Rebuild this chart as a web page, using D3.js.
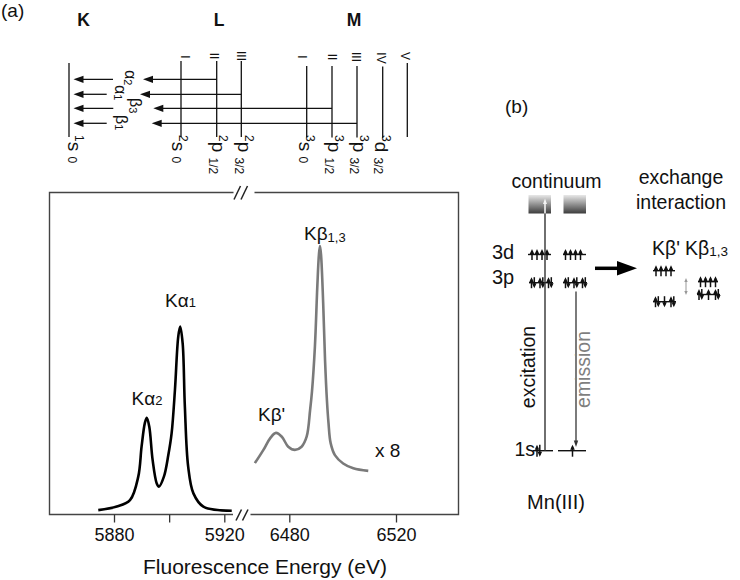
<!DOCTYPE html>
<html><head><meta charset="utf-8">
<script src="https://cdn.jsdelivr.net/npm/d3@7"></script>
<style>body{margin:0;background:#fff} svg{display:block} text{font-family:"Liberation Sans",Arial,Helvetica,sans-serif}</style>
</head><body><svg id="c" width="740" height="580"></svg>
<script>
// ---------- DATA ----------
// K-alpha emission (black), energy in eV, intensity in arbitrary units
const kaEnergy = [5874.3, 5881.0, 5885.8, 5888.8, 5890.0, 5891.2, 5891.9, 5892.8, 5894.0, 5895.5, 5896.3, 5898.1, 5899.7, 5900.9, 5902.1, 5903.3, 5904.0, 5904.9, 5905.7, 5906.9, 5908.8, 5912.4, 5922.7];
const kaIntensity = [1.2, 2.3, 4.3, 11.6, 20.9, 28.3, 29.9, 27.1, 16.8, 9.5, 8.5, 11.6, 18.3, 25.1, 38.5, 55.1, 58.2, 53.0, 33.3, 14.7, 6.4, 2.3, 1.0];
// K-beta emission (grey, x 8)
const kbEnergy = [6467.1, 6470.3, 6472.8, 6475.0, 6477.2, 6479.6, 6482.1, 6484.6, 6486.5, 6487.8, 6488.5, 6489.6, 6490.5, 6491.1, 6491.5, 6491.9, 6492.7, 6493.4, 6494.1, 6494.7, 6495.5, 6497.1, 6500.2, 6504.0, 6509.6];
const kbIntensity = [15.8, 19.9, 23.5, 25.2, 24.0, 20.9, 19.9, 20.9, 24.0, 32.3, 38.0, 52.0, 70.6, 80.5, 83.2, 80.5, 65.5, 47.8, 35.4, 28.2, 22.0, 18.3, 15.7, 14.2, 13.4];
// axis ticks
const leftTicks = [5880, 5900, 5920];
const leftTickLabels = ["5880", "", "5920"];
const rightTicks = [6480, 6520];
const rightTickLabels = ["6480", "6520"];
const axisTitle = "Fluorescence Energy (eV)";
// level diagram
const shellNames = ["K", "L", "M"];
const levelNumerals = ["", "I", "II", "III", "I", "II", "III", "IV", "V"];
const levelSup = ["1", "2", "2", "2", "3", "3", "3", "3", ""];
const levelOrb = ["s", "s", "p", "p", "s", "p", "p", "d", ""];
const levelSub = ["0", "0", "1/2", "3/2", "0", "1/2", "3/2", "3/2", ""];
const transGreek = ["α", "α", "β", "β"];
const transSub = ["2", "1", "3", "1"];
const transFrom = [2, 3, 5, 6];

// ---------- LAYOUT ----------
const svg = d3.select("#c");
const plot = {left: 49.5, right: 458.5, top: 192.5, bottom: 514.5};
const xLeft = d3.scaleLinear().domain([5880, 5920]).range([114, 224.3]);
const xRight = d3.scaleLinear().domain([6480, 6520]).range([289.3, 396]);
const y = d3.scaleLinear().domain([0, 100]).range([514, 192]);

// frame with breaks
svg.append("path")
  .attr("d", `M233,${plot.bottom} H${plot.left} V${plot.top} H233.5 M254.5,${plot.top} H${plot.right} V${plot.bottom} H250.5`)
  .attr("fill", "none").attr("stroke", "#444").attr("stroke-width", 1.4);
const breaks = [[234, 199.5, 240.5, 186], [241, 199.5, 247.5, 186], [236, 520.5, 241.5, 509.5], [242.5, 520.5, 248, 509.5]];
svg.selectAll("line.brk").data(breaks).join("line").attr("class", "brk")
  .attr("x1", d => d[0]).attr("y1", d => d[1]).attr("x2", d => d[2]).attr("y2", d => d[3])
  .attr("stroke", "#222").attr("stroke-width", 1.5);

function styleAxis(g) {
  g.select(".domain").remove();
  g.selectAll(".tick line").attr("stroke", "#333").attr("stroke-width", 1.3);
  g.selectAll(".tick text").attr("font-size", 18).attr("fill", "#111")
    .attr("font-family", '"Liberation Sans", Arial, sans-serif');
}
svg.append("g").attr("transform", `translate(0,${plot.bottom})`)
  .call(d3.axisBottom(xLeft).tickValues(leftTicks).tickFormat((d, i) => leftTickLabels[i]).tickSize(8).tickPadding(6))
  .call(styleAxis);
svg.append("g").attr("transform", `translate(0,${plot.bottom})`)
  .call(d3.axisBottom(xRight).tickValues(rightTicks).tickFormat((d, i) => rightTickLabels[i]).tickSize(8).tickPadding(6))
  .call(styleAxis);
svg.append("text").attr("x", 265).attr("y", 574).attr("text-anchor", "middle")
  .attr("font-size", 21).attr("fill", "#111").text(axisTitle);

// spectra
const lineKa = d3.line().x((d, i) => xLeft(kaEnergy[i])).y(d => y(d)).curve(d3.curveCatmullRom.alpha(0.5));
const lineKb = d3.line().x((d, i) => xRight(kbEnergy[i])).y(d => y(d)).curve(d3.curveCatmullRom.alpha(0.5));
svg.append("path").datum(kaIntensity).attr("d", lineKa).attr("fill", "none")
  .attr("stroke", "#000").attr("stroke-width", 2.6).attr("stroke-linejoin", "round");
svg.append("path").datum(kbIntensity).attr("d", lineKb).attr("fill", "none")
  .attr("stroke", "#7a7a7a").attr("stroke-width", 2.6).attr("stroke-linejoin", "round");

function label(x, yy, main, greek, sub, opts = {}) {
  const t = svg.append("text").attr("x", x).attr("y", yy).attr("font-size", opts.size || 19)
    .attr("fill", opts.fill || "#111").attr("text-anchor", opts.anchor || "start");
  t.append("tspan").text(main + greek);
  if (sub) t.append("tspan").attr("font-size", opts.subSize || 13).attr("dy", opts.subDy || 0).text(sub);
  return t;
}
label(165, 306.5, "K", "α", "1");
label(131.5, 405, "K", "α", "2");
label(304, 240, "K", "β", "1,3", {subDy: 2});
label(258, 420.5, "K", "β'", "");
svg.append("text").attr("x", 375).attr("y", 456.5).attr("font-size", 19).attr("fill", "#111").text("x 8");

// ---------- (a) level diagram ----------
svg.append("text").attr("x", 1).attr("y", 17).attr("font-size", 19).attr("fill", "#111").text("(a)");
const shellX = [83.5, 219, 354];
svg.selectAll("text.shell").data(shellNames).join("text").attr("class", "shell")
  .attr("x", (d, i) => shellX[i]).attr("y", 26).attr("text-anchor", "middle")
  .attr("font-size", 17.5).attr("font-weight", "bold").attr("fill", "#111").text(d => d);

const levelX = [69, 181, 216.7, 241.3, 306.7, 332, 357, 382.7, 407.3];
const levelTop = [63, 61, 61, 61, 66, 66, 66, 66.5, 63];
const levelBot = [137, 137, 137, 137, 137.5, 137.5, 137.5, 138, 137];
const labelBx = [68, 172, 212, 237.5, 298.5, 328, 353, 374.5, 0];
const numCx = [0, 185, 214, 241, 302, 332.5, 356, 381, 405];
const numCy = [0, 57, 56, 56, 57, 57, 57, 58, 56];
const subDy = [0, 0, 3, 3, 0, 3, 3, 1, 0];
const g = svg.append("g").attr("stroke", "#111").attr("stroke-width", 1.3);
levelX.forEach((lx, i) => {
  g.append("line").attr("x1", lx).attr("x2", lx).attr("y1", levelTop[i]).attr("y2", levelBot[i]);
  if (levelNumerals[i]) {
    svg.append("text").attr("transform", `translate(${numCx[i] - 4.3},${numCy[i]}) rotate(90)`)
      .attr("text-anchor", "middle").attr("font-size", 12).attr("fill", "#111").text(levelNumerals[i]);
  }
  if (levelOrb[i]) {
    const t = svg.append("text").attr("transform", `translate(${labelBx[i]},135) rotate(90)`)
      .attr("fill", "#111").attr("font-size", 19);
    t.append("tspan").attr("font-size", 12).attr("dy", -7).text(levelSup[i]);
    t.append("tspan").attr("dy", 7).text(levelOrb[i] + " ");
    t.append("tspan").attr("font-size", 12).attr("dy", subDy[i]).text(levelSub[i]);
  }
});
// transitions
const transY = [79.3, 94.3, 108.3, 123.3];
const transTipR = [143, 140, 153.3, 151.7];
const transStartL = [113, 106.7, 113.3, 106.7];
const transLblX = [125, 115, 130, 115.5];
const transLblY = [70, 85, 98, 115];
function hArrow(x1, x2, yy) { // from x1 to tip at x2 (x2 < x1)
  svg.append("line").attr("x1", x1).attr("x2", x2 + 7).attr("y1", yy).attr("y2", yy)
    .attr("stroke", "#111").attr("stroke-width", 1.3);
  svg.append("path").attr("d", `M${x2},${yy} L${x2 + 10},${yy - 3.6} L${x2 + 10},${yy + 3.6} Z`).attr("fill", "#111");
}
transFrom.forEach((src, i) => {
  hArrow(levelX[src], transTipR[i], transY[i]);
  hArrow(transStartL[i], 73.5, transY[i]);
  const t = svg.append("text").attr("transform", `translate(${transLblX[i]},${transLblY[i]}) rotate(90)`)
    .attr("font-size", 16).attr("fill", "#111");
  t.append("tspan").text(transGreek[i]);
  t.append("tspan").attr("font-size", 11).attr("dy", 1).text(transSub[i]);
});

// ---------- (b) ----------
const B = svg.append("g");
B.append("text").attr("x", 505).attr("y", 113).attr("font-size", 19).attr("fill", "#111").text("(b)");
B.append("text").attr("x", 556.5).attr("y", 188).attr("text-anchor", "middle").attr("font-size", 19.5).attr("fill", "#111").text("continuum");
B.append("text").attr("x", 681).attr("y", 183.5).attr("text-anchor", "middle").attr("font-size", 19.5).attr("fill", "#111").text("exchange");
B.append("text").attr("x", 681).attr("y", 208.5).attr("text-anchor", "middle").attr("font-size", 19.5).attr("fill", "#111").text("interaction");
const defs = svg.append("defs");
const grad = defs.append("linearGradient").attr("id", "cg").attr("x1", 0).attr("x2", 0).attr("y1", 0).attr("y2", 1);
grad.append("stop").attr("offset", "0%").attr("stop-color", "#e8e8e8");
grad.append("stop").attr("offset", "100%").attr("stop-color", "#3c3c3c");
[[528.5, 195], [563.5, 195]].forEach(p => B.append("rect").attr("x", p[0]).attr("y", p[1]).attr("width", 22.5).attr("height", 18.5).attr("fill", "url(#cg)"));

B.append("text").attr("x", 492).attr("y", 258.5).attr("font-size", 20).attr("fill", "#111").text("3d");
B.append("text").attr("x", 492).attr("y", 283.5).attr("font-size", 20).attr("fill", "#111").text("3p");
B.append("text").attr("x", 514.5).attr("y", 456).attr("font-size", 19.5).attr("fill", "#111").text("1s");
B.append("text").attr("x", 556).attr("y", 509).attr("text-anchor", "middle").attr("font-size", 20).attr("fill", "#111").text("Mn(III)");

function hline(x1, x2, yy, c = "#111", w = 1.4) {
  B.append("line").attr("x1", x1).attr("x2", x2).attr("y1", yy).attr("y2", yy).attr("stroke", c).attr("stroke-width", w);
}
function electron(x, yc, dir, len = 11, c = "#111") {
  const tail = yc + dir * len / 2, tip = yc - dir * len / 2;
  B.append("line").attr("x1", x).attr("x2", x).attr("y1", tail).attr("y2", tip + dir * 2).attr("stroke", c).attr("stroke-width", 1.5);
  B.append("path").attr("d", `M${x},${tip} L${x - 2.3},${tip + dir * 5} L${x + 2.3},${tip + dir * 5} Z`).attr("fill", c);
}
// 3d levels (4 unpaired up spins)
[[528, 551, [532, 537, 542, 547]], [563, 586, [565.5, 570.5, 575.5, 580.5]]].forEach(s => {
  hline(s[0], s[1], 254.5); s[2].forEach(x => electron(x, 254.5, 1));
});
// 3p levels (three pairs)
[[529, 553, [531.5, 540, 548.5]], [563, 587, [565.5, 574, 582.5]]].forEach(s => {
  hline(s[0], s[1], 282.7); s[2].forEach(x => { electron(x, 282.7, 1); electron(x + 2.8, 282.7, -1); });
});
// 1s levels
hline(533, 553, 450.7); hline(558, 586, 450.7);
electron(537, 450.7, 1, 12); electron(539.8, 450.7, -1, 12);
electron(572.5, 450.7, 1, 12);
// excitation line
B.append("line").attr("x1", 545).attr("x2", 545).attr("y1", 213).attr("y2", 450.7).attr("stroke", "#333").attr("stroke-width", 1.4);
B.append("line").attr("x1", 545).attr("x2", 545).attr("y1", 203).attr("y2", 213.5).attr("stroke", "#f4f4f4").attr("stroke-width", 1.6);
B.append("path").attr("d", "M545,198.5 L543,204 L547,204 Z").attr("fill", "#f4f4f4");
// emission line
B.append("line").attr("x1", 576).attr("x2", 576).attr("y1", 291.5).attr("y2", 442).attr("stroke", "#444").attr("stroke-width", 1.4);
B.append("path").attr("d", "M576,447 L573.8,440.5 L578.2,440.5 Z").attr("fill", "#333");
// rotated labels
B.append("text").attr("transform", "translate(535,367) rotate(-90)").attr("text-anchor", "middle")
  .attr("font-size", 19.5).attr("fill", "#111").text("excitation");
B.append("text").attr("transform", "translate(590,369.5) rotate(-90)").attr("text-anchor", "middle")
  .attr("font-size", 19.5).attr("fill", "#7f7f7f").text("emission");
// big arrow
B.append("line").attr("x1", 595).attr("x2", 620).attr("y1", 268.3).attr("y2", 268.3).attr("stroke", "#000").attr("stroke-width", 3.5);
B.append("path").attr("d", "M637,268.3 L617,261 L617,275.6 Z").attr("fill", "#000");
// final states
B.append("text").attr("x", 666).attr("y", 255).attr("text-anchor", "middle").attr("font-size", 19.5).attr("fill", "#111").text("Kβ'");
const kb13 = B.append("text").attr("x", 685).attr("y", 255).attr("font-size", 19.5).attr("fill", "#111");
kb13.append("tspan").text("Kβ");
kb13.append("tspan").attr("font-size", 13.5).attr("dy", 1).text("1,3");
// Kbeta' configuration
hline(653, 675, 270.7); [656, 661, 666, 671].forEach(x => electron(x, 270.7, 1));
hline(653, 676, 301.7);
electron(655.5, 301.7, 1); electron(658.3, 301.7, -1); electron(664.5, 301.7, -1);
electron(671, 301.7, 1); electron(673.8, 301.7, -1);
// Kbeta1,3 configuration
hline(698, 718, 281.7); [700.5, 705.5, 710.5, 715.5].forEach(x => electron(x, 281.7, 1));
hline(697, 720, 294.5);
electron(699, 294.5, 1); electron(701.8, 294.5, -1); electron(708.5, 294.5, 1);
electron(715.5, 294.5, 1); electron(718.3, 294.5, -1);
// grey double arrow
B.append("line").attr("x1", 686).attr("x2", 686).attr("y1", 281).attr("y2", 292).attr("stroke", "#999").attr("stroke-width", 1);
B.append("path").attr("d", "M686,278 L684.3,282 L687.7,282 Z M686,295 L684.3,291 L687.7,291 Z").attr("fill", "#999");
</script></body></html>
